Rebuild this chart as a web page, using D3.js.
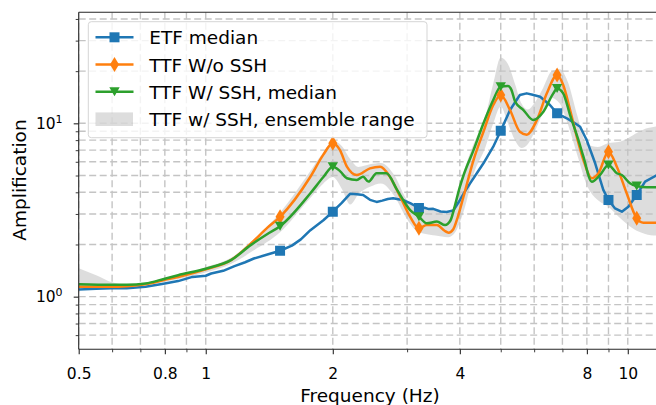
<!DOCTYPE html>
<html><head><meta charset="utf-8">
<script src="https://cdn.jsdelivr.net/npm/d3@7"></script>
<style>body{margin:0;background:#fff;} svg{display:block;font-family:"DejaVu Sans",sans-serif;}</style>
</head><body><svg id="c" width="656" height="405"></svg>
<script>
// ---------- data ----------
const etfFreq = [0.5,0.55,0.6,0.65,0.72,0.8,0.86,0.93,1.0,1.03,1.1,1.17,1.24,1.3,1.4,1.5,1.6,1.68,1.77,1.9,2.0,2.1,2.2,2.28,2.36,2.45,2.54,2.62,2.7,2.78,2.88,2.94,3.05,3.2,3.3,3.38,3.46,3.6,3.72,3.86,4.0,4.1,4.23,4.4,4.55,4.8,5.0,5.26,5.55,5.76,5.95,6.2,6.54,6.8,7.17,7.45,7.71,7.99,8.37,8.75,9.0,9.33,9.68,10.03,10.5,10.99,11.67,12];
const etfAmp  = [1.10,1.11,1.12,1.12,1.14,1.19,1.23,1.30,1.32,1.36,1.41,1.50,1.58,1.66,1.75,1.84,1.97,2.14,2.42,2.76,3.09,3.48,3.93,3.90,3.86,3.62,3.52,3.58,3.66,3.70,3.64,3.60,3.46,3.25,3.26,3.20,3.21,3.10,3.08,3.14,3.60,4.00,4.50,5.20,5.88,7.33,9.06,11.93,14.57,14.89,14.60,14.24,12.75,11.42,10.69,10.10,9.56,8.01,5.88,4.13,3.61,3.23,3.09,3.30,3.86,4.61,5.00,5.02];

const ttfFreq = [0.5,0.6,0.65,0.72,0.8,0.86,1.0,1.15,1.28,1.4,1.5,1.77,1.9,2.0,2.08,2.16,2.28,2.45,2.59,2.73,2.89,3.05,3.2,3.34,3.53,3.68,3.76,3.86,3.95,4.08,4.31,4.55,4.8,5.0,5.26,5.55,5.76,6.09,6.43,6.8,7.03,7.3,7.57,7.85,8.22,8.52,9.0,9.42,9.94,10.5,10.89,11.67,12];
const ttfAmp  = [1.14,1.14,1.15,1.18,1.25,1.30,1.44,1.63,2.03,2.50,2.89,4.92,6.60,7.67,7.00,5.62,5.03,5.50,5.62,4.92,3.77,2.89,2.48,2.59,2.59,2.40,2.34,2.45,2.85,3.77,6.14,8.94,12.75,14.57,11.93,8.94,8.60,10.45,14.89,18.99,16.63,11.93,8.37,6.14,4.82,5.15,6.86,5.62,3.95,2.83,2.67,2.67,2.67];

const sshFreq = [0.5,0.6,0.65,0.72,0.8,0.86,1.0,1.15,1.28,1.4,1.5,1.77,1.9,2.0,2.08,2.16,2.28,2.36,2.43,2.54,2.68,2.84,3.05,3.2,3.34,3.53,3.69,3.8,3.9,4.0,4.08,4.31,4.55,4.8,5.0,5.2,5.3,5.41,5.66,5.97,6.31,6.66,6.8,7.03,7.3,7.64,7.85,8.22,8.59,9.0,9.42,9.68,10.12,10.5,11.09,11.67,12];
const sshAmp  = [1.18,1.17,1.17,1.19,1.27,1.33,1.45,1.63,1.99,2.30,2.55,3.95,4.90,5.62,5.30,4.82,4.71,4.92,4.61,5.15,5.15,4.13,3.16,2.89,2.65,2.71,2.59,2.75,3.40,4.30,5.00,7.00,10.00,13.63,16.26,16.40,15.60,13.32,11.93,10.45,11.67,14.89,15.90,14.89,11.16,8.00,6.42,4.60,5.03,5.75,5.15,5.03,4.51,4.35,4.28,4.28,4.28];

const bandFreq = [0.5,0.55,0.6,0.65,0.7,0.8,1.0,1.15,1.3,1.5,1.75,1.9,2.0,2.1,2.2,2.3,2.45,2.6,2.8,3.0,3.2,3.5,3.75,3.9,4.1,4.3,4.6,4.8,5.0,5.2,5.4,5.6,5.8,6.0,6.3,6.6,6.9,7.2,7.6,8.0,8.5,9.0,9.5,10.0,10.5,11.0,11.67,12];
const bandHigh = [1.46,1.33,1.21,1.17,1.19,1.28,1.48,1.68,2.15,3.05,5.10,6.80,7.90,7.40,6.20,5.60,5.80,5.90,5.00,3.60,3.25,3.20,3.00,3.40,5.40,7.50,11.0,17.0,24.0,22.0,17.0,13.0,12.0,13.0,16.0,20.0,20.5,17.5,11.0,7.60,7.30,7.70,7.80,8.20,8.80,9.30,9.60,9.70];
const bandLow  = [1.12,1.12,1.13,1.14,1.16,1.22,1.38,1.55,1.85,2.35,3.60,4.50,4.90,4.20,3.40,3.90,4.30,4.50,3.80,2.80,2.35,2.25,2.20,2.35,3.20,5.00,7.30,10.0,12.5,10.0,8.00,7.20,7.60,8.80,11.5,14.0,13.0,10.0,6.50,4.40,3.60,3.30,2.90,2.60,2.40,2.30,2.25,2.25];

const markerFreqs = [1.5,2.0,3.2,5.0,6.8,9.0,10.5];
const xMajorTicks = [0.5,0.8,1,2,4,8,10];
const xMajorLabels = ["0.5","0.8","1","2","4","8","10"];
const xMinorTicks = [0.6,0.7,0.9,3,5,6,7,9];
const yMajorTicks = [1,10];
const yMajorLabels = [["10","0"],["10","1"]];
const yMinorTicks = [0.6,0.7,0.8,0.9,2,3,4,5,6,7,8,9,20,30,40];
const seriesNames = ["ETF median","TTF W/o SSH","TTF W/ SSH, median","TTF w/ SSH, ensemble range"];
const xTitle = "Frequency (Hz)";
const yTitle = "Amplification";

// ---------- layout ----------
const L = 78.7, R = 661.2, T = 12.3, B = 349.3;
const x = d3.scaleLog().domain([0.5, 12]).range([L, R]);
const y = d3.scaleLog().domain([0.497, 43.7]).range([B, T]);
const colors = ["#1f77b4", "#ff7f0e", "#2ca02c"];
const ink = "#000";
const svg = d3.select("#c");

svg.append("defs").append("clipPath").attr("id","clip")
  .append("rect").attr("x",L).attr("y",T).attr("width",R-L).attr("height",B-T);

// band
const band = bandFreq.map((f,i)=>({f, lo:bandLow[i], hi:bandHigh[i]}));
svg.append("path").datum(band)
  .attr("clip-path","url(#clip)")
  .attr("fill","#808080").attr("fill-opacity",0.27)
  .attr("d", d3.area().x(d=>x(d.f)).y0(d=>y(d.lo)).y1(d=>y(d.hi)).curve(d3.curveMonotoneX));

// grid
const grid = svg.append("g").attr("clip-path","url(#clip)")
  .attr("stroke","#c4c4c4").attr("stroke-width",1.4).attr("stroke-dasharray","7,3.5").attr("fill","none");
[...xMajorTicks, ...xMinorTicks].forEach(v=>{
  grid.append("line").attr("x1",x(v)).attr("x2",x(v)).attr("y1",T).attr("y2",B);
});
[...yMajorTicks, ...yMinorTicks].forEach(v=>{
  grid.append("line").attr("x1",L).attr("x2",R).attr("y1",y(v)).attr("y2",y(v));
});

// lines
const series = [
  {f:etfFreq, a:etfAmp, curve:d3.curveLinear},
  {f:ttfFreq, a:ttfAmp, curve:d3.curveMonotoneX},
  {f:sshFreq, a:sshAmp, curve:d3.curveMonotoneX}
];
const lineG = svg.append("g").attr("clip-path","url(#clip)");
series.forEach((s,i)=>{
  const pts = s.f.map((f,j)=>({f, a:s.a[j]}));
  lineG.append("path").datum(pts)
    .attr("fill","none").attr("stroke",colors[i]).attr("stroke-width",2.5)
    .attr("stroke-linejoin","round")
    .attr("d", d3.line().x(d=>x(d.f)).y(d=>y(d.a)).curve(s.curve));
});

// markers
function markerPath(kind, s){
  if(kind===0){ const h=s/2; return `M${-h},${-h}H${h}V${h}H${-h}Z`; }
  if(kind===1){ const hw=s*0.45, hh=s*0.75; return `M0,${-hh}L${hw},0L0,${hh}L${-hw},0Z`; }
  const hw=s*0.52, hh=s*0.45; return `M${-hw},${-hh}H${hw}L0,${hh}Z`;
}
series.forEach((s,i)=>{
  markerFreqs.forEach(mf=>{
    const j = s.f.indexOf(mf);
    if(j<0) return;
    lineG.append("path").attr("d",markerPath(i,10))
      .attr("transform",`translate(${x(s.f[j])},${y(s.a[j])})`)
      .attr("fill",colors[i]);
  });
});

// axes spines
const ax = svg.append("g").attr("stroke","#262626").attr("stroke-width",1.1);
ax.append("line").attr("x1",L).attr("x2",L).attr("y1",T).attr("y2",B);
ax.append("line").attr("x1",L).attr("x2",R).attr("y1",B).attr("y2",B);
ax.append("line").attr("x1",L).attr("x2",R).attr("y1",T).attr("y2",T);

// x ticks
const xa = svg.append("g").attr("transform",`translate(0,${B})`)
  .call(d3.axisBottom(x).tickValues(xMajorTicks).tickSize(5).tickFormat((d,i)=>xMajorLabels[i]));
xa.select(".domain").remove();
xa.selectAll("line").attr("stroke","#262626").attr("stroke-width",1.1);
xa.selectAll("text").attr("y",29.5).attr("dy",0).attr("font-size",15.5)
  .attr("font-family","DejaVu Sans").attr("fill",ink);
const xm = svg.append("g").attr("transform",`translate(0,${B})`)
  .call(d3.axisBottom(x).tickValues(xMinorTicks).tickSize(3).tickFormat(""));
xm.select(".domain").remove();
xm.selectAll("line").attr("stroke","#262626").attr("stroke-width",0.9);

// y ticks
const ya = svg.append("g").attr("transform",`translate(${L},0)`)
  .call(d3.axisLeft(y).tickValues(yMajorTicks).tickSize(5).tickFormat(""));
ya.select(".domain").remove();
ya.selectAll("line").attr("stroke","#262626").attr("stroke-width",1.1);
const ym = svg.append("g").attr("transform",`translate(${L},0)`)
  .call(d3.axisLeft(y).tickValues(yMinorTicks).tickSize(3).tickFormat(""));
ym.select(".domain").remove();
ym.selectAll("line").attr("stroke","#262626").attr("stroke-width",0.9);
yMajorTicks.forEach((v,i)=>{
  svg.append("text").attr("x",L-23).attr("y",y(v)+5.6)
    .attr("text-anchor","end").attr("font-size",15.5).attr("fill",ink)
    .text(yMajorLabels[i][0]);
  svg.append("text").attr("x",L-23.3).attr("y",y(v)-0.3)
    .attr("text-anchor","start").attr("font-size",11).attr("fill",ink)
    .text(yMajorLabels[i][1]);
});

// axis titles
svg.append("text").attr("x",(L+R)/2).attr("y",402).attr("text-anchor","middle")
  .attr("font-size",18.5).attr("fill",ink).text(xTitle);
svg.append("text").attr("transform","translate(25.5,180) rotate(-90)").attr("text-anchor","middle")
  .attr("font-size",18.5).attr("fill",ink).text(yTitle);

// legend
const lg = svg.append("g");
lg.append("rect").attr("x",88.3).attr("y",21.7).attr("width",338.7).attr("height",116)
  .attr("rx",3).attr("fill","#fff").attr("fill-opacity",0.8).attr("stroke","#d5d5d5").attr("stroke-width",1);
const rowY = [37.3, 64.6, 91.8, 119.2];
[0,1,2].forEach(i=>{
  lg.append("line").attr("x1",95.5).attr("x2",133.5).attr("y1",rowY[i]).attr("y2",rowY[i])
    .attr("stroke",colors[i]).attr("stroke-width",2.5);
  lg.append("path").attr("d",markerPath(i,10)).attr("transform",`translate(114.5,${rowY[i]})`).attr("fill",colors[i]);
});
lg.append("rect").attr("x",95.5).attr("y",rowY[3]-6.8).attr("width",37.5).attr("height",13.6)
  .attr("fill","#808080").attr("fill-opacity",0.27);
seriesNames.forEach((n,i)=>{
  lg.append("text").attr("x",149.3).attr("y",rowY[i]+6.9).attr("font-size",18.5).attr("fill",ink).text(n);
});
</script></body></html>
